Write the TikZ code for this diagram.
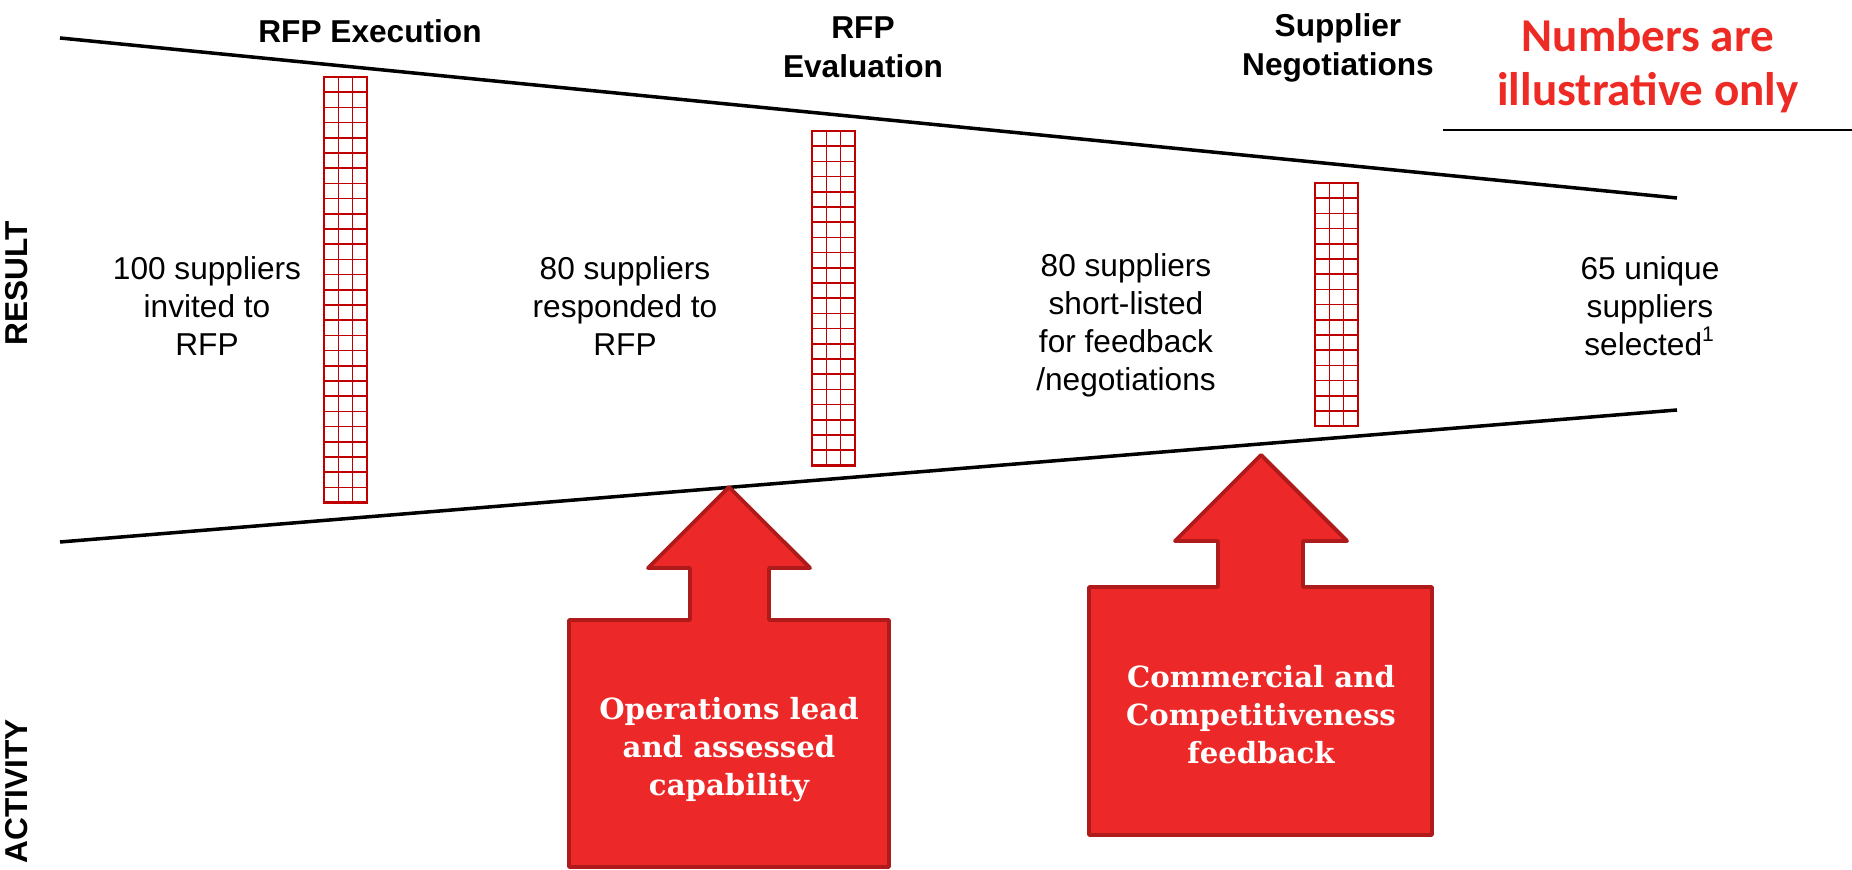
\documentclass[tikz,border=0pt]{standalone}
\usepackage{fontspec}
\setmainfont{Liberation Sans}
\newfontfamily\calloutfont{DejaVu Serif}
\newfontfamily\notefont{Carlito}
\usepackage{tikz}
\usepackage{xcolor}
\usetikzlibrary{calc, positioning}

\definecolor{arrowred}{HTML}{EC2828}
\definecolor{arrowedge}{HTML}{AF1B1B}
\definecolor{gridred}{HTML}{C00000}
\definecolor{notered}{HTML}{EE2A24}

\begin{document}
\begin{tikzpicture}[
        stagetext/.style={align=center, inner sep=0pt, font=\fontsize{9}{10.8}\selectfont},
        stagehead/.style={align=center, inner sep=0pt, font=\fontsize{9}{11.1}\selectfont\bfseries},
        sidelabel/.style={rotate=90, inner sep=0pt, font=\fontsize{9}{10.8}\selectfont\bfseries},
        calloutbox/.style={fill=arrowred, draw=arrowedge, line width=1.1pt, line join=round},
        callouttext/.style={align=center, inner sep=0pt, text=white, font=\calloutfont\bfseries\fontsize{8.3}{10.8}\selectfont},
        gridbar/.style={draw=gridred, line width=0.45pt},
        gridframe/.style={draw=gridred, line width=0.7pt},
    ]
                    \useasboundingbox (0, 0) rectangle (18.52, -8.70);

                    % funnel
                    \draw[line width=1pt]
                    (0.60, -0.38) -- (16.77, -1.98)
                    (0.60, -5.42) -- (16.77, -4.10);

                    \draw[line width=0.7pt]
                    (14.43, -1.30) -- (18.52, -1.30);

                    % grid bars
                    \foreach \i in {1, 2}
                        \draw[gridbar] (3.24 + \i*0.143, -0.77) -- (3.24 + \i*0.143, -5.026);
                    \foreach \j in {1, ..., 27}
                        \draw[gridbar] (3.24, -0.77 - \j*0.152) -- (3.669, -0.77 - \j*0.152);
                    \draw[gridframe] (3.24, -0.77) rectangle (3.669, -5.026);

                    \foreach \i in {1, 2}
                        \draw[gridbar] (8.12 + \i*0.143, -1.31) -- (8.12 + \i*0.143, -4.654);
                    \foreach \j in {1, ..., 21}
                        \draw[gridbar] (8.12, -1.31 - \j*0.152) -- (8.549, -1.31 - \j*0.152);
                    \draw[gridframe] (8.12, -1.31) rectangle (8.549, -4.654);

                    \foreach \i in {1, 2}
                        \draw[gridbar] (13.15 + \i*0.143, -1.83) -- (13.15 + \i*0.143, -4.262);
                    \foreach \j in {1, ..., 15}
                        \draw[gridbar] (13.15, -1.83 - \j*0.152) -- (13.579, -1.83 - \j*0.152);
                    \draw[gridframe] (13.15, -1.83) rectangle (13.579, -4.262);

                    % arrows
                    \draw[calloutbox]
                    (5.69, -8.67) -- (5.69, -6.20) -- (6.90, -6.20) -- (6.90, -5.68) -- (6.48, -5.68)
                    -- (7.29, -4.87) -- (8.10, -5.68) -- (7.69, -5.68) -- (7.69, -6.20) -- (8.89, -6.20)
                    -- (8.89, -8.67) -- cycle;

                    \draw[calloutbox]
                    (10.89, -8.35) -- (10.89, -5.87) -- (12.18, -5.87) -- (12.18, -5.41) -- (11.75, -5.41)
                    -- (12.61, -4.55) -- (13.47, -5.41) -- (13.03, -5.41) -- (13.03, -5.87) -- (14.32, -5.87)
                    -- (14.32, -8.35) -- cycle;

                    \node[callouttext] (ops) at (7.29, -7.50) {Operations lead\\and assessed\\capability};
                    \node[callouttext] (comm) at (12.61, -7.15) {Commercial and\\Competitiveness\\feedback};

                    % stage titles
                    \node[stagehead] (exec) at (3.70, -0.31) {RFP Execution};
                    \node[stagehead] (eval) at (8.63, -0.475) {RFP\\Evaluation};
                    \node[stagehead] (nego) at (13.38, -0.475) {Supplier\\Negotiations};

                    \node[align=center, inner sep=0pt, text=notered, font=\notefont\bfseries\fontsize{13.4}{15.4}\selectfont] (note) at (16.48, -0.655) {Numbers are\\illustrative only};

                    % results
                    \node[stagetext] (invited) at (2.07, -3.06) {100 suppliers\\invited to\\RFP};
                    \node[stagetext] (responded) at (6.25, -3.06) {80 suppliers\\responded to\\RFP};
                    \node[stagetext] (shortlist) at (11.26, -3.25) {80 suppliers\\short-listed\\for feedback\\/negotiations};
                    \node[stagetext] (selected) at (16.50, -3.06) {65 unique\\suppliers\\selected\textsuperscript{1}};

                    \node[sidelabel] (result) at (0.17, -2.83) {RESULT};
                    \node[sidelabel] (activity) at (0.17, -7.91) {ACTIVITY};
                \end{tikzpicture}
\end{document}
